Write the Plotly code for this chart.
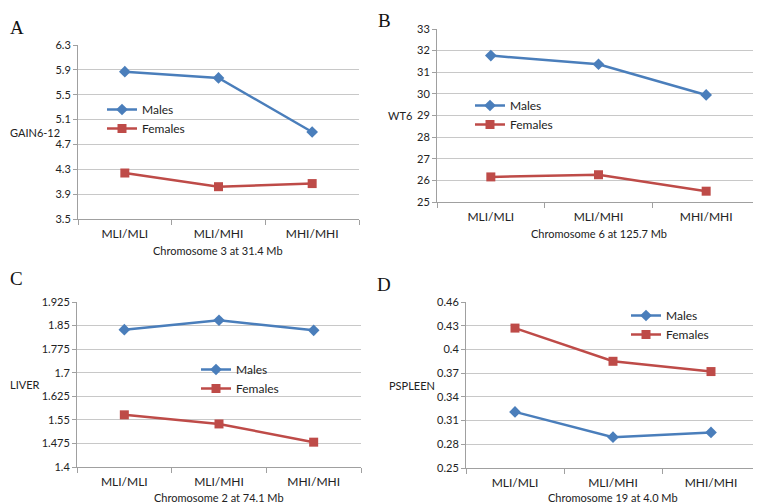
import plotly.graph_objects as go

# Genotype categories (shared by all panels)
genotypes = ['MLI/MLI', 'MLI/MHI', 'MHI/MHI']

# Panel A: GAIN6-12, chromosome 3
gain_males = [5.87, 5.77, 4.90]
gain_females = [4.24, 4.02, 4.07]

# Panel B: WT6, chromosome 6
wt6_males = [31.77, 31.37, 29.95]
wt6_females = [26.16, 26.26, 25.50]

# Panel C: LIVER, chromosome 2
liver_males = [1.837, 1.867, 1.835]
liver_females = [1.566, 1.537, 1.479]

# Panel D: PSPLEEN, chromosome 19
spleen_males = [0.321, 0.289, 0.295]
spleen_females = [0.427, 0.385, 0.372]

# page body adds an 8px margin, so the figure is drawn 8px smaller and shifted
OFF = 8
W, H = 761 - OFF, 504 - OFF
BLUE = '#4a7ebb'
RED = '#be4b48'
GRID = '#c8c8c8'
AXIS = '#a0a0a0'
FONT = 'Lato'


def px(x):
    return max(x - OFF, 0) / W


def py(y):
    return 1 - max(y - OFF, 0) / H


# plot boxes in page pixels: (left, right, top, bottom)
panels = [
    dict(letter='A', ytitle='GAIN6-12', xtitle='Chromosome 3 at 31.4 Mb',
         males=gain_males, females=gain_females, yr=[3.5, 6.3], dt=0.4,
         box=(78, 359, 45, 219), lpos=(0, 15), ytx=4, leg=(102, 95)),
    dict(letter='B', ytitle='WT6', xtitle='Chromosome 6 at 125.7 Mb',
         males=wt6_males, females=wt6_females, yr=[25, 33], dt=1,
         box=(437, 760, 29, 202), lpos=(376, 3), ytx=386, leg=(470, 91)),
    dict(letter='C', ytitle='LIVER', xtitle='Chromosome 2 at 74.1 Mb',
         males=liver_males, females=liver_females, yr=[1.4, 1.925], dt=0.075,
         box=(77, 361, 302, 467), lpos=(0, 266), ytx=6, leg=(196, 355)),
    dict(letter='D', ytitle='PSPLEEN', xtitle='Chromosome 19 at 4.0 Mb',
         males=spleen_males, females=spleen_females, yr=[0.25, 0.46], dt=0.03,
         box=(466, 760, 302, 468), lpos=(375, 272), ytx=387, leg=(626, 301)),
]

fig = go.Figure()
annotations = []
layout = {}

for i, p in enumerate(panels, start=1):
    sfx = '' if i == 1 else str(i)
    xa, ya = 'x' + sfx, 'y' + sfx
    lg = 'legend' if i == 1 else 'legend' + str(i)
    x0, x1, yt, yb = p['box']

    fig.add_trace(go.Scatter(
        x=genotypes, y=p['males'], name='Males', mode='lines+markers',
        line=dict(color=BLUE, width=2.5),
        marker=dict(symbol='diamond', size=9, color=BLUE),
        xaxis=xa, yaxis=ya, legend=lg))
    fig.add_trace(go.Scatter(
        x=genotypes, y=p['females'], name='Females', mode='lines+markers',
        line=dict(color=RED, width=2.5),
        marker=dict(symbol='square', size=9, color=RED),
        xaxis=xa, yaxis=ya, legend=lg))

    layout['xaxis' + sfx] = dict(
        domain=[px(x0), px(x1)], anchor=ya, type='category',
        range=[-0.5, 2.5], automargin=False,
        tickson='boundaries', ticks='outside', ticklen=5, tickcolor=AXIS,
        ticklabelstandoff=4,
        showline=True, linecolor=AXIS, linewidth=1, showgrid=False,
        tickfont=dict(family=FONT, size=12, color='#222'), fixedrange=True)
    layout['yaxis' + sfx] = dict(
        domain=[py(yb), py(yt)], anchor=xa, range=p['yr'], automargin=False,
        tick0=p['yr'][0], dtick=p['dt'],
        ticks='outside', ticklen=4, tickcolor=AXIS,
        showline=True, linecolor=AXIS, linewidth=1,
        showgrid=True, gridcolor=GRID, gridwidth=1, zeroline=False,
        tickfont=dict(family=FONT, size=11, color='#222'), fixedrange=True)

    layout[lg] = dict(
        x=px(p['leg'][0]), y=py(p['leg'][1]), xanchor='left', yanchor='top',
        bgcolor='rgba(0,0,0,0)', tracegroupgap=0, itemwidth=30,
        font=dict(family=FONT, size=12, color='#222'))

    annotations.append(dict(
        text=p['letter'], x=px(p['lpos'][0]), y=py(p['lpos'][1]),
        xref='paper', yref='paper', xanchor='left', yanchor='top',
        showarrow=False, font=dict(family='Liberation Serif', size=19, color='#111')))
    annotations.append(dict(
        text=p['ytitle'], x=px(p['ytx']), y=py((yt + yb) / 2),
        xref='paper', yref='paper', xanchor='left', yanchor='middle',
        showarrow=False, font=dict(family=FONT, size=11, color='#222')))
    annotations.append(dict(
        text=p['xtitle'], x=px((x0 + x1) / 2), y=py(min(yb + 31, 497)),
        xref='paper', yref='paper', xanchor='center', yanchor='middle',
        showarrow=False, font=dict(family=FONT, size=11, color='#222')))

fig.update_layout(
    width=W, height=H,
    margin=dict(l=0, r=0, t=0, b=0, autoexpand=False),
    paper_bgcolor='white', plot_bgcolor='white',
    showlegend=True,
    annotations=annotations,
    **layout)

fig.write_html("out.html")
